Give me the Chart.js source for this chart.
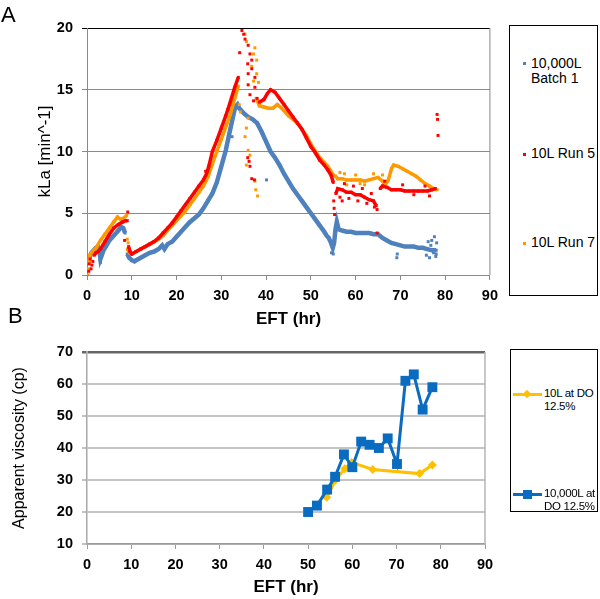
<!DOCTYPE html>
<html>
<head>
<meta charset="utf-8">
<script src="https://cdn.jsdelivr.net/npm/chart.js@4.4.1/dist/chart.umd.min.js"></script>
<style>
  body { margin: 0; background: #fff; font-family: "Liberation Sans", Arial, Helvetica, sans-serif; color: #000; }
  #wrap { position: relative; width: 600px; height: 599px; overflow: hidden; }
  canvas { position: absolute; left: 0; }
  #chartA { top: 0; }
  #chartB { top: 330px; }
  .tag { position: absolute; font-size: 22px; line-height: 22px; }
  .box { position: absolute; border: 1.5px solid #000; box-sizing: border-box; }
  .itemA { position: absolute; left: 531px; font-size: 14px; line-height: 15px; }
  .dotA { position: absolute; left: 523px; width: 3px; height: 3px; }
  .itemB { position: absolute; left: 544px; font-size: 11.5px; line-height: 13px; letter-spacing: -0.3px; }
  .lineB { position: absolute; left: 513px; width: 29px; height: 3px; }
  .mark { position: absolute; }
</style>
</head>
<body>
<div id="wrap">
  <canvas id="chartA" width="505" height="335"></canvas>
  <canvas id="chartB" width="505" height="269"></canvas>

  <div class="tag" style="left:1px; top:4px;">A</div>
  <div class="tag" style="left:8px; top:305px;">B</div>

  <div class="box" style="left:509px; top:25px; width:89px; height:271px;"></div>
  <div class="dotA" style="top:62px; background:#4f81bd;"></div>
  <div class="itemA" style="top:56px;">10,000L<br>Batch 1</div>
  <div class="dotA" style="top:153px; background:#ff0000;"></div>
  <div class="itemA" style="top:146px;">10L Run 5</div>
  <div class="dotA" style="top:242px; background:#ff9900;"></div>
  <div class="itemA" style="top:235px;">10L Run 7</div>

  <div class="box" style="left:510px; top:349px; width:88px; height:163px;"></div>
  <div class="lineB" style="top:393px; background:#ffc000;"></div>
  <div class="mark" style="left:524px; top:391px; width:6px; height:6px; background:#ffc000; transform:rotate(45deg);"></div>
  <div class="itemB" style="top:387px;">10L at DO<br>12.5%</div>
  <div class="lineB" style="top:493px; background:#0a6cc0;"></div>
  <div class="mark" style="left:523px; top:490px; width:9px; height:9px; background:#0a6cc0;"></div>
  <div class="itemB" style="top:487px;">10,000L at<br>DO 12.5%</div>
</div>

<script>
// Panel A: kLa vs EFT (null y = gap in the trace)
const blueX = [0.3, 0.6, 1.0, 1.5, 2.0, 2.5, 2.8, 3.0, 3.3, 3.7, 4.2, 5.0, 6.0, 7.0, 7.6, 8.1, 8.5, 8.7,
  9.0, 9.4, 10.0, 10.6, 11, 12, 13, 14, 15, 16, 16.8, 17.3, 18, 19, 20, 21, 22, 23, 24, 25, 26, 27, 28, 29, 30, 31, 32, 32.6, 33.1, 33.6,
  34, 35, 36, 37, 38, 39, 40, 41, 42, 43, 44, 45, 46, 47, 48, 49, 50, 51, 52, 53, 53.5, 54, 54.5, 54.9, 55.2, 55.5, 55.8, 56.2,
  57, 58, 59, 60, 61, 62, 63, 64, 65, 66, 67, 68, 69, 70, 71, 72, 73, 74, 75, 76, 77, 78];
const blueY = [1.0, 1.5, 1.8, 2.0, 2.2, 2.3, 1.9, 1.3, 1.6, 2.0, 2.3, 2.8, 3.2, 3.6, 3.9, 3.8, 3.4, null,
  1.7, 1.4, 1.2, 1.1, 1.2, 1.4, 1.6, 1.8, 1.9, 2.1, 2.4, 2.1, 2.5, 2.7, 3.1, 3.5, 3.9, 4.3, 4.6, 4.9, 5.4, 6.0, 6.6, 7.5, 8.8, 10.1, 11.8, 12.8, 13.6, 13.8,
  13.5, 13.1, 12.8, 12.6, 12.3, 11.6, 10.8, 10.0, 9.5, 8.9, 8.2, 7.6, 7.0, 6.5, 6.0, 5.5, 5.0, 4.5, 4.0, 3.5, 3.2, 3.0, 2.6, 2.2, 2.6, 3.7, 4.3, 3.7,
  3.6, 3.5, 3.5, 3.4, 3.4, 3.4, 3.4, 3.3, 3.3, 3.0, 2.8, 2.6, 2.5, 2.4, 2.3, 2.3, 2.3, 2.2, 2.2, 2.1, 2.0, 2.0];
const blueOutX = [2.9, 3.0, 32.4, 40.1, 54.6, 55.0, 69.2, 69.3, 75.8, 76.2, 76.5, 76.8, 77.0, 77.4, 77.6, 77.9, 78.0, 78.1];
const blueOutY = [1.2, 1.0, 11.2, 7.7, 1.8, 1.7, 1.4, 1.7, 1.6, 2.7, 1.4, 2.4, 2.8, 1.8, 3.1, 1.5, 1.7, 2.6];

const redX = [1.6, 2.0, 2.5, 3.0, 4.0, 5.0, 6.0, 7.0, 8.0, 8.6, 9.0, 9.1,
  9.3, 9.6, 10, 11, 12, 13, 14, 15, 16, 17, 18, 19, 20, 21, 22, 23, 24, 25, 26, 26.7, 27.2, 28, 29, 30, 31, 32, 33, 33.8, 34.2,
  38.5, 39.5, 40.3, 41, 42, 43, 44, 45, 46, 47, 48, 49, 50, 51, 52, 53, 53.8, 54.5, 55.0, 55.2,
  55.6, 56, 57, 58, 59, 60, 61, 62, 63, 64, 64.6, 65.0,
  65.5, 66, 67, 68, 69, 70, 71, 72, 73, 74, 75, 76, 77, 77.8];
const redY = [1.6, 1.8, 1.9, 2.1, 2.7, 3.3, 3.8, 4.1, 4.3, 4.4, 4.4, null,
  2.3, 1.9, 1.7, 1.9, 2.1, 2.3, 2.5, 2.7, 3.0, 3.4, 3.8, 4.2, 4.7, 5.2, 5.7, 6.2, 6.7, 7.2, 7.7, 8.2, 8.8, 10.0, 10.9, 11.9, 12.9, 14.0, 15.2, 16.0, null,
  14.0, 14.2, 14.7, 15.0, 14.8, 14.3, 13.8, 13.3, 12.8, 12.3, 11.8, 11.1, 10.4, 9.9, 9.3, 8.9, 8.5, 8.1, 7.5, null,
  6.6, 7.0, 6.9, 6.7, 6.7, 6.5, 6.5, 6.3, 6.1, 6.0, 5.6, null,
  7.0, 7.2, 7.1, 6.9, 6.9, 6.9, 6.8, 6.8, 6.8, 6.8, 6.8, 6.8, 6.9, 7.0];
const redOutX = [0.4, 0.5, 0.7, 0.9, 1.1, 1.3, 8.4, 9.1, 26.5, 31.5, 34.1, 34.6, 35.0, 35.3, 35.9, 36.0, 36.0, 36.0, 36.4, 36.4, 36.8, 36.8,
  37.2, 37.5, 37.5, 38.0, 35.9, 36.2, 36.4, 36.8, 37.4, 55.1, 55.2, 55.3, 56.5, 57, 57.5, 58.5, 59.5, 60.5, 61.5, 62.5, 63.5, 64.2,
  64.8, 64.8, 66.5, 70.5, 73, 75.5, 76.5, 78.2, 78.3, 78.4];
const redOutY = [0.3, 0.9, 1.3, 0.5, 0.8, 1.1, 2.8, 5.1, 8.4, 13.4, 18.0, 19.8, 19.5, 19.1, 17.1, 18.6, 16.3, 15.4, 17.9, 14.6, 17.4, 16.7,
  14.1, 16.0, 15.2, 14.3, 9.5, 9.2, 8.8, 7.8, 7.7, 6.0, 5.4, 4.9, 6.3, 6.0, 7.4, 6.2, 7.2, 6.0, 7.0, 5.8, 6.6, 5.5,
  5.3, 3.4, 7.6, 7.3, 6.5, 7.2, 6.4, 13.0, 12.6, 11.3];

const orangeX = [0.4, 0.6, 1.0, 1.5, 2.0, 3.0, 4.0, 5.0, 6.0, 6.8, 7.5, 8.2, 8.8, 8.9,
  9.0, 9.5, 10, 11, 12, 13, 14, 15, 16, 17, 18, 19, 20, 21, 22, 23, 24, 25, 26, 27, 28, 29, 30, 31, 32, 33, 33.8, 34.0,
  37.8, 38.5, 39.5, 40.5, 41.5, 42.5, 43.5, 45, 47, 49, 50, 52, 53.8, 55, 55.5, 56, 57, 58, 59, 60, 61, 62, 63, 64, 65, 66, 66.6, 67.3,
  68, 68.5, 69.5, 70.5, 71.5, 72.5, 73.5, 74.5, 75.5, 76.5, 77.3, 78.2];
const orangeY = [1.0, 1.6, 1.8, 2.0, 2.2, 2.8, 3.3, 3.8, 4.3, 4.7, 4.5, 4.6, 4.8, null,
  2.1, 1.8, 1.7, 1.9, 2.1, 2.3, 2.5, 2.7, 2.9, 3.2, 3.6, 4.0, 4.4, 4.8, 5.2, 5.7, 6.2, 6.7, 7.2, 7.9, 9.0, 10.0, 11.0, 12.0, 13.0, 14.3, 15.3, null,
  14.3, 13.7, 13.6, 13.5, 13.5, 13.8, 13.5, 12.9, 12.3, 11.3, 10.6, 9.5, 8.8, 8.1, 8.0, 7.8, 7.8, 7.7, 7.7, 7.7, 7.7, 7.6, 7.7, 7.8, 7.9, 7.6, 7.3, 7.7,
  8.6, 8.9, 8.8, 8.6, 8.4, 8.2, 8.0, 7.7, 7.4, 7.2, 7.0, 6.9];
const orangeOutX = [0.2, 0.3, 8.9, 9.0, 9.2, 34.0, 34.3, 35.3, 35.6, 37.5, 37.2, 37.9, 36.8, 37.9, 37.2, 38.3, 36.0, 35.6, 35.3, 36.0, 36.4,
  35.6, 37.5, 37.7, 38.1, 55.3, 56.5, 57.5, 58, 60, 61, 62, 64, 66];
const orangeOutY = [0.0, 0.5, 4.9, 2.9, 2.6, 13.8, 13.2, 19.5, 18.9, 18.4, 17.9, 17.4, 16.9, 16.3, 15.7, 15.6, 12.7, 11.9, 11.2, 10.1, 9.7,
  8.9, 7.6, 6.9, 6.4, 4.9, 8.3, 8.2, 7.3, 8.1, 7.4, 7.3, 8.2, 8.1];

const kLaTicksX = [0, 10, 20, 30, 40, 50, 60, 70, 80, 90];
const kLaTicksY = [0, 5, 10, 15, 20];

// Panel B: apparent viscosity vs EFT
const visc10kX = [50, 52, 54.3, 56.1, 58.1, 60, 62, 63.9, 66, 68, 70.1, 72, 73.9, 75.9, 78.1];
const visc10kY = [20, 22, 27, 31, 38, 34, 42, 41, 40, 43, 35, 61, 63, 52, 59];
const visc10X = [54.2, 56.2, 58.3, 59.8, 64.6, 75.2, 78.1];
const visc10Y = [24.6, 30, 33.5, 35.5, 33.3, 32, 34.7];

const viscTicksY = [10, 20, 30, 40, 50, 60, 70];

const pts = (xs, ys) => xs.map((x, i) => ({ x: x, y: ys[i] }));
const FONT = '"Liberation Sans", Arial, Helvetica, sans-serif';

const rightEdge = {
  id: 'rightEdge',
  afterDatasetsDraw(chart, args, opts) {
    const { ctx, chartArea: a } = chart;
    ctx.save();
    ctx.strokeStyle = opts.color;
    ctx.lineWidth = opts.width;
    ctx.beginPath();
    ctx.moveTo(a.right, a.top);
    ctx.lineTo(a.right, a.bottom);
    ctx.stroke();
    ctx.restore();
  }
};

function trace(xs, ys, color, width) {
  return {
    data: pts(xs, ys), showLine: true, borderColor: color, borderWidth: width,
    pointStyle: 'rect', pointRadius: 2.1, pointBorderWidth: 0, pointBackgroundColor: color, spanGaps: false
  };
}
function cloud(xs, ys, color) {
  return {
    data: pts(xs, ys), showLine: false, pointStyle: 'rect', pointRadius: 2.1,
    pointBorderWidth: 0, pointBackgroundColor: color
  };
}

new Chart(document.getElementById('chartA'), {
  type: 'scatter',
  data: {
    datasets: [
      cloud(redOutX, redOutY, '#ff0000'),
      trace(redX, redY, '#ff0000', 3.5),
      cloud(orangeOutX, orangeOutY, '#ff9900'),
      trace(orangeX, orangeY, '#ff9900', 3.5),
      cloud(blueOutX, blueOutY, '#4f81bd'),
      trace(blueX, blueY, '#4f81bd', 4.5)
    ]
  },
  options: {
    responsive: false,
    animation: false,
    layout: { padding: { top: 28, right: 12, left: 0, bottom: 0 } },
    plugins: { legend: { display: false }, tooltip: { enabled: false }, rightEdge: { color: '#8a8a8a', width: 1 } },
    scales: {
      x: {
        type: 'linear', min: 0, max: 90,
        afterBuildTicks: s => { s.ticks = kLaTicksX.map(v => ({ value: v })); },
        afterFit: s => { s.height = 60; },
        ticks: { color: '#000', padding: 7, font: { family: FONT, size: 14.5, weight: 'bold' } },
        grid: { drawOnChartArea: false, tickLength: 5, color: '#8a8a8a' },
        border: { color: '#8a8a8a' },
        title: { display: true, text: 'EFT (hr)', color: '#000', padding: { top: 0, bottom: 5 },
                 font: { family: FONT, size: 17, weight: 'bold' } }
      },
      y: {
        min: 0, max: 20,
        afterBuildTicks: s => { s.ticks = kLaTicksY.map(v => ({ value: v })); },
        afterFit: s => { s.width = 87; },
        ticks: { color: '#000', padding: 9, font: { family: FONT, size: 14.5, weight: 'bold' } },
        grid: { tickLength: 5, color: c => (c.tick && c.tick.value === 20 ? '#000' : '#8a8a8a') },
        border: { color: '#8a8a8a' },
        title: { display: true, text: 'kLa [min^-1]', color: '#000', padding: { top: 35, bottom: 0 },
                 font: { family: FONT, size: 17 } }
      }
    }
  },
  plugins: [rightEdge]
});

new Chart(document.getElementById('chartB'), {
  type: 'scatter',
  data: {
    datasets: [
      {
        data: pts(visc10kX, visc10kY), showLine: true, borderColor: '#0a6cc0', borderWidth: 3,
        pointStyle: 'rect', pointRadius: 7, pointBorderWidth: 0, pointBackgroundColor: '#0a6cc0'
      },
      {
        data: pts(visc10X, visc10Y), showLine: true, borderColor: '#ffc000', borderWidth: 3,
        pointStyle: 'rectRot', pointRadius: 4.5, pointBorderWidth: 0, pointBackgroundColor: '#ffc000'
      }
    ]
  },
  options: {
    responsive: false,
    animation: false,
    layout: { padding: { top: 22, right: 20, left: 0, bottom: 0 } },
    plugins: { legend: { display: false }, tooltip: { enabled: false }, rightEdge: { color: '#b5b5b5', width: 1.5 } },
    scales: {
      x: {
        type: 'linear', min: 0, max: 90,
        afterBuildTicks: s => { s.ticks = kLaTicksX.map(v => ({ value: v })); },
        afterFit: s => { s.height = 55; },
        ticks: { color: '#000', padding: 7, font: { family: FONT, size: 14.5, weight: 'bold' } },
        grid: { drawOnChartArea: false, tickLength: 5, color: '#9a9a9a' },
        border: { color: '#9a9a9a', width: 1.5 },
        title: { display: true, text: 'EFT (hr)', color: '#000', padding: { top: 0, bottom: 1 },
                 font: { family: FONT, size: 17, weight: 'bold' } }
      },
      y: {
        min: 10, max: 70,
        afterBuildTicks: s => { s.ticks = viscTicksY.map(v => ({ value: v })); },
        afterFit: s => { s.width = 87; },
        ticks: { color: '#000', padding: 9, font: { family: FONT, size: 14.5, weight: 'bold' } },
        grid: {
          tickLength: 5,
          lineWidth: c => (c.tick && c.tick.value === 70 ? 2.5 : 2),
          color: c => (c.tick && c.tick.value === 70 ? '#666' : '#c4c4c4')
        },
        border: { color: '#a8a8a8', width: 1.5 },
        title: { display: true, text: 'Apparent viscosity (cp)', color: '#000', padding: { top: 10, bottom: 0 },
                 font: { family: FONT, size: 16 } }
      }
    }
  },
  plugins: [rightEdge]
});
</script>
</body>
</html>
